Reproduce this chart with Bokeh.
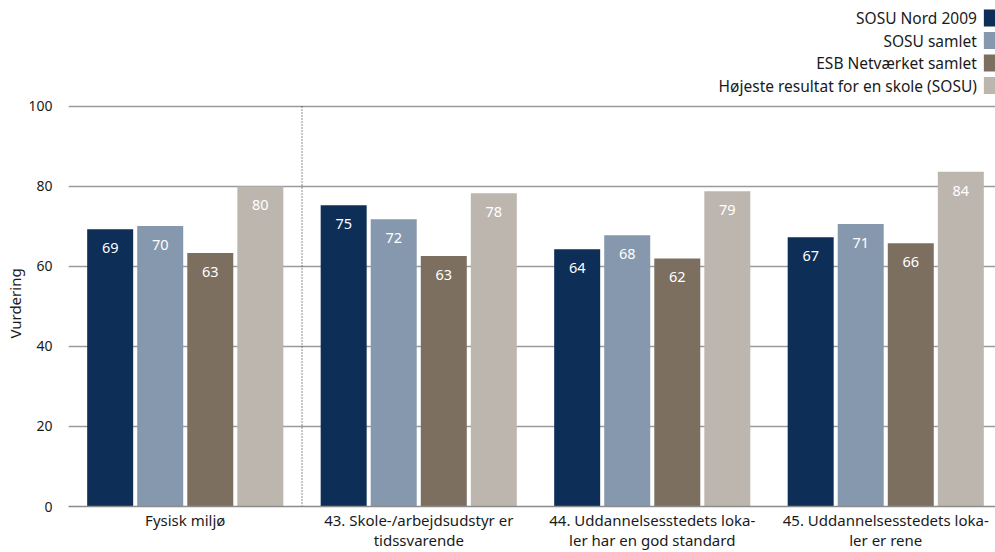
from bokeh.plotting import figure
from bokeh.layouts import column
from bokeh.models import FixedTicker
from bokeh.core.properties import value
from bokeh.embed import file_html
from bokeh.resources import INLINE

# ---- data ----
categories = [
    "Fysisk miljø",
    "43. Skole-/arbejdsudstyr er\ntidssvarende",
    "44. Uddannelsesstedets loka-\nler har en god standard",
    "45. Uddannelsesstedets loka-\nler er rene",
]
series_names = [
    "SOSU Nord 2009",
    "SOSU samlet",
    "ESB Netværket samlet",
    "Højeste resultat for en skole (SOSU)",
]
sosu_nord_2009 = [69.3, 75.3, 64.3, 67.3]
sosu_samlet = [70.1, 71.8, 67.8, 70.6]
esb_netvaerket_samlet = [63.4, 62.6, 62.0, 65.8]
hoejeste_resultat = [80.0, 78.3, 78.8, 83.7]
y_ticks = [0, 20, 40, 60, 80, 100]
y_label = "Vurdering"

series_values = [sosu_nord_2009, sosu_samlet, esb_netvaerket_samlet, hoejeste_resultat]
colors = ["#0c2e57", "#8598ae", "#7c6f5f", "#bdb6af"]

FONT = "Noto Sans"
TXT = "#1a1a1a"
W = 995
LEG_H = 96

# ---- legend strip (swatch on the right of right-aligned text) ----
leg = figure(width=W, height=LEG_H, x_range=(0, W), y_range=(LEG_H, 0),
             output_backend="svg", toolbar_location=None, tools="",
             min_border=0)
leg.axis.visible = False
leg.grid.visible = False
leg.outline_line_color = None
row_y = [17.5 + 22.5 * k for k in range(len(series_names))]
leg.rect(x=[989] * 4, y=row_y, width=13, height=17, fill_color=colors, line_color=None)
leg.text(x=[975] * 4, y=row_y, text=series_names, text_align="right",
         text_baseline="middle", text_color=TXT, text_font=value(FONT),
         text_font_size="15.5px")

# ---- main chart ----
px_per_unit = 4.02
y_top = 100 + 6 / px_per_unit
x_end = 927 / 233.5

p = figure(
    width=W, height=552 - LEG_H,
    x_range=(0, x_end), y_range=(0, y_top),
    output_backend="svg", toolbar_location=None, tools="",
    min_border_left=68, min_border_right=0, min_border_top=4, min_border_bottom=44,
)
p.outline_line_color = None

offsets = [-0.3215, -0.1072, 0.1072, 0.3215]
bar_w = 0.197

for j, (vals, col) in enumerate(zip(series_values, colors)):
    xs = [i + 0.5 + offsets[j] for i in range(len(categories))]
    p.vbar(x=xs, top=vals, bottom=0, width=bar_w, fill_color=col, line_color=None)
    p.text(x=xs, y=vals, text=[f"{v:.0f}" for v in vals],
           text_align="center", text_baseline="middle", y_offset=19,
           text_color="white", text_font=value(FONT), text_font_size="14.5px")

# separator between the summary group and the items
p.segment(x0=[1], y0=[y_ticks[0]], x1=[1], y1=[y_ticks[-1]],
          line_color="#222222", line_width=1, line_dash="1 2")

# y axis
p.yaxis.ticker = FixedTicker(ticks=y_ticks)
p.yaxis.axis_line_color = None
p.yaxis.major_tick_line_color = None
p.yaxis.minor_tick_line_color = None
p.yaxis.major_tick_out = 0
p.yaxis.minor_tick_out = 0
p.yaxis.major_label_text_font = FONT
p.yaxis.major_label_text_font_size = "14px"
p.yaxis.major_label_text_color = TXT
p.yaxis.major_label_standoff = 16
p.yaxis.axis_label = y_label
p.yaxis.axis_label_standoff = 0
p.yaxis.axis_label_text_font = FONT
p.yaxis.axis_label_text_font_size = "15px"
p.yaxis.axis_label_text_font_style = "normal"
p.yaxis.axis_label_text_color = TXT

# x axis with category labels
p.xaxis.ticker = FixedTicker(ticks=[i + 0.5 for i in range(len(categories))])
p.xaxis.major_label_overrides = {i + 0.5: c for i, c in enumerate(categories)}
p.xaxis.axis_line_color = "#8c8c8c"
p.xaxis.axis_line_width = 1.5
p.xaxis.major_tick_line_color = None
p.xaxis.minor_tick_line_color = None
p.xaxis.major_tick_out = 0
p.xaxis.minor_tick_out = 0
p.xaxis.major_label_text_font = FONT
p.xaxis.major_label_text_font_size = "15px"
p.xaxis.major_label_text_color = TXT
p.xaxis.major_label_text_line_height = 1.0
p.xaxis.major_label_standoff = 3

p.xgrid.grid_line_color = None
p.ygrid.ticker = FixedTicker(ticks=y_ticks)
p.ygrid.grid_line_color = "#9a9a9a"
p.ygrid.grid_line_width = 1.5

layout = column(leg, p, spacing=0)
open("out.html", "w").write(file_html(layout, INLINE))
